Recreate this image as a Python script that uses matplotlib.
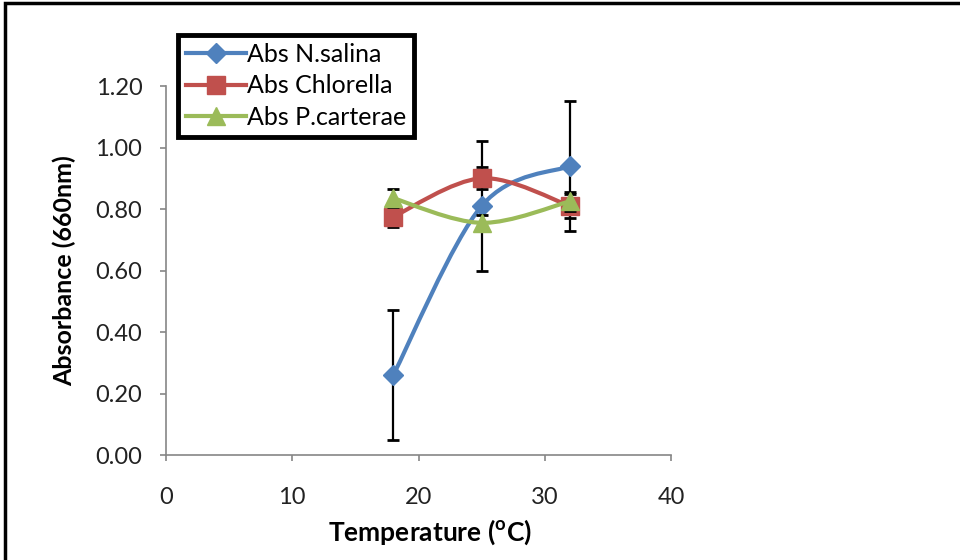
import matplotlib
matplotlib.use("Agg")
import matplotlib.pyplot as plt
from matplotlib.path import Path
from matplotlib.patches import PathPatch, Rectangle
from matplotlib.lines import Line2D

plt.rcParams['font.family'] = ['Lato', 'DejaVu Sans']

# data
temps = [18, 25, 32]
nsalina = [0.26, 0.81, 0.94]
nsalina_err = [0.21, 0.21, 0.21]
chlorella = [0.775, 0.90, 0.81]
chlorella_err = [0.035, 0.036, 0.04]
pcarterae = [0.835, 0.755, 0.825]
pcarterae_err = [0.03, 0.025, 0.03]
yticks = [0, 0.2, 0.4, 0.6, 0.8, 1.0, 1.2]

series = [
    ("Abs N.salina", nsalina, nsalina_err, "#4F81BD", "D", 10),
    ("Abs Chlorella", chlorella, chlorella_err, "#C0504D", "s", 13),
    ("Abs P.carterae", pcarterae, pcarterae_err, "#9BBB59", "^", 13),
]


def smooth_path(xs, ys):
    # Excel-like smoothed line: cubic bezier through the points
    pts = list(zip(xs, ys))
    verts = [pts[0]]
    codes = [Path.MOVETO]
    n = len(pts)
    for i in range(n - 1):
        p0 = pts[i - 1] if i > 0 else pts[i]
        p1 = pts[i]
        p2 = pts[i + 1]
        p3 = pts[i + 2] if i + 2 < n else pts[i + 1]
        c1 = (p1[0] + (p2[0] - p0[0]) / 6, p1[1] + (p2[1] - p0[1]) / 6)
        c2 = (p2[0] - (p3[0] - p1[0]) / 6, p2[1] - (p3[1] - p1[1]) / 6)
        verts += [c1, c2, p2]
        codes += [Path.CURVE4] * 3
    return Path(verts, codes)


fig = plt.figure(figsize=(9.6, 5.6), dpi=100)
ax = fig.add_axes([0.1729, 0.1875, 0.5261, 0.6589])

handles = []
for k, (label, vals, err, color, marker, ms) in enumerate(series):
    z = 2 + k * 3
    ax.add_patch(PathPatch(smooth_path(temps, vals), facecolor="none",
                           edgecolor=color, lw=3, zorder=z))
    ax.errorbar(temps, vals, yerr=err, fmt="none", ecolor="black",
                elinewidth=1.6, capsize=4.5, capthick=2, zorder=z + 1)
    ax.plot(temps, vals, linestyle="none", marker=marker, markersize=ms,
            color=color, zorder=z + 2)
    handles.append(Line2D([], [], color=color, lw=3, marker=marker,
                          markersize=ms, label=label))

ax.set_xlim(0, 40)
ax.set_ylim(0, 1.2)
ax.set_xticks(range(0, 41, 10))
ax.set_yticks(yticks)
ax.set_yticklabels([f"{v:.2f}" for v in yticks])

for s in ["top", "right"]:
    ax.spines[s].set_visible(False)
for s in ["left", "bottom"]:
    ax.spines[s].set_color("#868686")
    ax.spines[s].set_linewidth(1.2)
ax.tick_params(axis="both", direction="out", length=4, width=1.2,
               color="#868686", labelsize=17, labelcolor="#222222")
ax.tick_params(axis="y", pad=13)
ax.tick_params(axis="x", pad=19)

ax.set_xlabel("Temperature ($^{\\mathregular{o}}$C)", fontsize=19,
              fontweight="bold")
ax.xaxis.set_label_coords(0.523, -0.17)
ax.set_ylabel("Absorbance (660nm)", fontsize=18, fontweight="bold",
              labelpad=14)

leg = ax.legend(handles=handles, loc="upper left",
                bbox_to_anchor=(0.024, 1.138), borderaxespad=0,
                fontsize=18, handlelength=2.4, handletextpad=0.05,
                labelspacing=0.35, borderpad=0.3, fancybox=False,
                framealpha=1, edgecolor="black")
leg.get_frame().set_linewidth(3.5)
leg.set_zorder(20)

# outer frame of the picture
fig.patches.append(Rectangle((0.005, -0.05), 1.2, 1.045, transform=fig.transFigure,
                             fill=False, edgecolor="black", lw=2.5))

fig.savefig("out.png", dpi=100)
